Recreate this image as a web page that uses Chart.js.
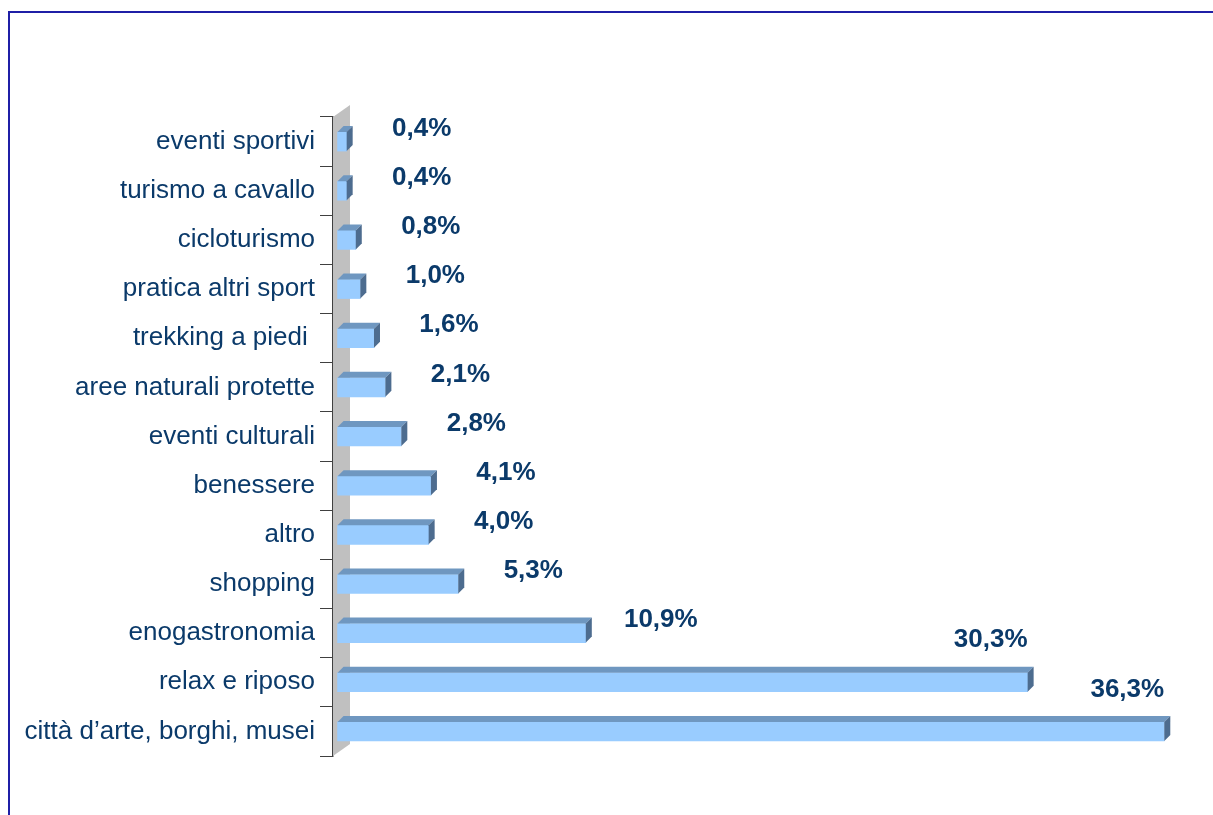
<!DOCTYPE html>
<html>
<head>
<meta charset="utf-8">
<script src="https://cdn.jsdelivr.net/npm/chart.js@4"></script>
<style>
  html, body { margin: 0; padding: 0; background: #fff; }
  #wrap { position: relative; width: 1213px; height: 815px; overflow: hidden; }
  #frame {
    position: absolute; left: 8px; top: 11px; width: 1300px; height: 900px;
    border-left: 2px solid #1f1fa6; border-top: 2px solid #1f1fa6;
  }
  canvas { position: absolute; left: 0; top: 0; }
</style>
</head>
<body>
<div id="wrap">
  <div id="frame"></div>
  <canvas id="chart" width="1213" height="815"></canvas>
</div>
<script>
const categories = ['eventi sportivi', 'turismo a cavallo', 'cicloturismo', 'pratica altri sport',
                    'trekking a piedi ', 'aree naturali protette', 'eventi culturali', 'benessere',
                    'altro', 'shopping', 'enogastronomia', 'relax e riposo', 'città d\u2019arte, borghi, musei'];
const values = [0.4, 0.4, 0.8, 1.0, 1.6, 2.1, 2.8, 4.1, 4.0, 5.3, 10.9, 30.3, 36.3];

const textColor = '#0B3A6A';
const depth = 6;

// gray back wall behind the bars
const wallPlugin = {
  id: 'wall',
  beforeDatasetsDraw(chart) {
    const { ctx, chartArea } = chart;
    const l = chartArea.left, t = chartArea.top, b = chartArea.bottom;
    ctx.save();
    ctx.fillStyle = '#C0C0C0';
    ctx.beginPath();
    ctx.moveTo(l, t);
    ctx.lineTo(l + 17, t - 12);
    ctx.lineTo(l + 17, b - 12);
    ctx.lineTo(l, b);
    ctx.closePath();
    ctx.fill();
    ctx.restore();
  }
};

// top and side faces of the bars, plus the value labels
const bar3dPlugin = {
  id: 'bar3d',
  afterDatasetsDraw(chart) {
    const { ctx } = chart;
    const meta = chart.getDatasetMeta(0);
    ctx.save();
    meta.data.forEach((el, i) => {
      const h = el.height;
      const top = el.y - h / 2, bot = el.y + h / 2;
      ctx.fillStyle = '#6F97C0';
      ctx.beginPath();
      ctx.moveTo(el.base, top);
      ctx.lineTo(el.base + depth, top - depth);
      ctx.lineTo(el.x + depth, top - depth);
      ctx.lineTo(el.x, top);
      ctx.closePath();
      ctx.fill();
      ctx.fillStyle = '#4D6C8F';
      ctx.beginPath();
      ctx.moveTo(el.x, top);
      ctx.lineTo(el.x + depth, top - depth);
      ctx.lineTo(el.x + depth, bot - depth);
      ctx.lineTo(el.x, bot);
      ctx.closePath();
      ctx.fill();

      const v = values[i];
      const txt = v.toFixed(1).replace('.', ',') + '%';
      let cx, cy;
      if (v > 20) { cx = el.x - 37; cy = el.y - 42; }
      else { cx = el.x + 75; cy = el.y - 13; }
      ctx.font = 'bold 26px "Liberation Sans", Arial, sans-serif';
      ctx.fillStyle = textColor;
      ctx.textAlign = 'center';
      ctx.textBaseline = 'middle';
      ctx.fillText(txt, cx, cy);
    });
    ctx.restore();
  }
};

Chart.defaults.font.family = '"Liberation Sans", Arial, sans-serif';

new Chart(document.getElementById('chart').getContext('2d'), {
  type: 'bar',
  data: {
    labels: categories,
    datasets: [{
      data: values,
      backgroundColor: '#99CCFF',
      borderWidth: 0,
      barThickness: 19
    }]
  },
  options: {
    indexAxis: 'y',
    responsive: false,
    animation: false,
    layout: { padding: { left: 0, right: 10, top: 117, bottom: 59 } },
    plugins: { legend: { display: false }, tooltip: { enabled: false } },
    scales: {
      x: { min: -0.2, max: 38, display: false },
      y: {
        afterFit(scale) { scale.width = 333; },
        grid: { drawOnChartArea: false, tickLength: 13, color: '#404040', offset: true },
        border: { display: true, color: '#404040', width: 1.5 },
        ticks: { color: textColor, font: { size: 26 }, padding: 5 }
      }
    }
  },
  plugins: [wallPlugin, bar3dPlugin]
});
</script>
</body>
</html>
